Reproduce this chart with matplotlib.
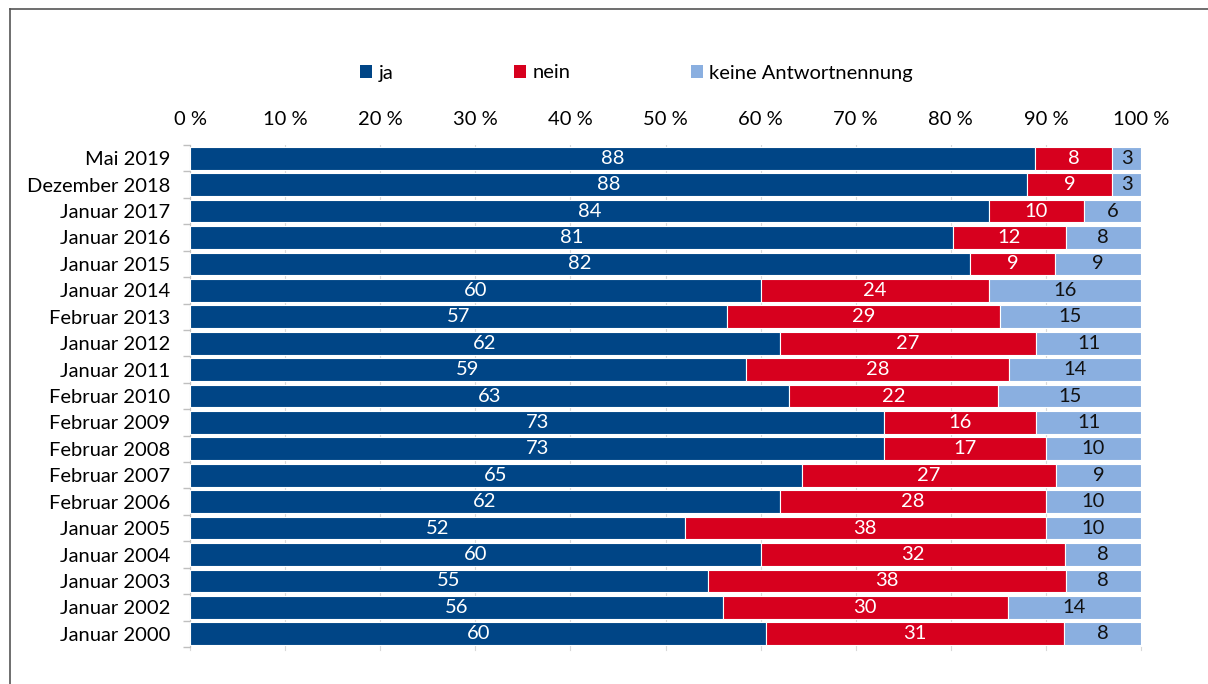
import matplotlib
matplotlib.use("Agg")
import matplotlib.pyplot as plt
import numpy as np
from matplotlib.lines import Line2D
from matplotlib.patches import Patch

categories = ["Mai 2019", "Dezember 2018", "Januar 2017", "Januar 2016", "Januar 2015",
              "Januar 2014", "Februar 2013", "Januar 2012", "Januar 2011", "Februar 2010",
              "Februar 2009", "Februar 2008", "Februar 2007", "Februar 2006", "Januar 2005",
              "Januar 2004", "Januar 2003", "Januar 2002", "Januar 2000"]
ja = [88, 88, 84, 81, 82, 60, 57, 62, 59, 63, 73, 73, 65, 62, 52, 60, 55, 56, 60]
nein = [8, 9, 10, 12, 9, 24, 29, 27, 28, 22, 16, 17, 27, 28, 38, 32, 38, 30, 31]
keine = [3, 3, 6, 8, 9, 16, 15, 11, 14, 15, 11, 10, 9, 10, 10, 8, 8, 14, 8]
series_names = ["ja", "nein", "keine Antwortnennung"]
colors = ["#004586", "#D7001E", "#8AAFE0"]
text_colors = ["white", "white", "#111111"]
xticks = list(range(0, 101, 10))

FS = 14.5
plt.rcParams['font.family'] = ['Lato', 'DejaVu Sans']
fig = plt.figure(figsize=(12.08, 6.84), dpi=100)
ax = fig.add_axes([190/1208, 37/684, (1141-190)/1208, (647-145)/684])

data = np.array([ja, nein, keine], dtype=float)
totals = data.sum(axis=0)
pct = data / totals * 100
y = np.arange(len(categories))
left = np.zeros(len(categories))
for i in range(3):
    ax.barh(y, pct[i], left=left, height=0.86, color=colors[i], edgecolor="white",
            linewidth=0.8, zorder=3)
    for j in range(len(categories)):
        ax.text(left[j] + pct[i][j] / 2, y[j], str(int(data[i][j])), ha="center",
                va="center", color=text_colors[i], fontsize=FS, zorder=4)
    left += pct[i]

ax.set_xlim(0, 100)
ax.set_ylim(len(categories) - 0.5, -0.5)
ax.set_xticks(xticks)
ax.set_xticklabels([f"{t} %" for t in xticks], fontsize=FS)
ax.xaxis.tick_top()
ax.tick_params(axis="x", length=0, pad=12)
ax.grid(axis="x", color="#d9d9d9", linewidth=0.8, zorder=0)
ax.set_yticks(y)
ax.set_yticklabels(categories, fontsize=FS)
ax.tick_params(axis="y", length=0, pad=14)
# category boundary ticks on left spine
ax.set_yticks(np.arange(-0.5, len(categories)), minor=True)
ax.tick_params(axis="y", which="minor", length=5, color="#bfbfbf", width=1)
for s in ["top", "right", "bottom"]:
    ax.spines[s].set_visible(False)
ax.spines["left"].set_color("#bfbfbf")
# small bottom ticks at grid positions
for t in xticks:
    ax.plot([t, t], [len(categories) - 0.5, len(categories) - 0.5 + 0.12], color="#d9d9d9",
            lw=0.8, clip_on=False, zorder=1)

handles = [Patch(facecolor=c, edgecolor="none") for c in colors]
fig.legend(handles, series_names, loc="center", bbox_to_anchor=(0.527, 1 - 73/684),
           ncol=3, frameon=False, fontsize=FS, handlelength=0.6, handleheight=0.6,
           handletextpad=0.3, columnspacing=6.0)

# outer frame lines (top and left)
fig.add_artist(Line2D([10/1208, 1], [1 - 9/684, 1 - 9/684], color="#555555", lw=1.2,
                      transform=fig.transFigure))
fig.add_artist(Line2D([10/1208, 10/1208], [0, 1 - 9/684], color="#555555", lw=1.2,
                      transform=fig.transFigure))

fig.savefig("out.png", dpi=100)
